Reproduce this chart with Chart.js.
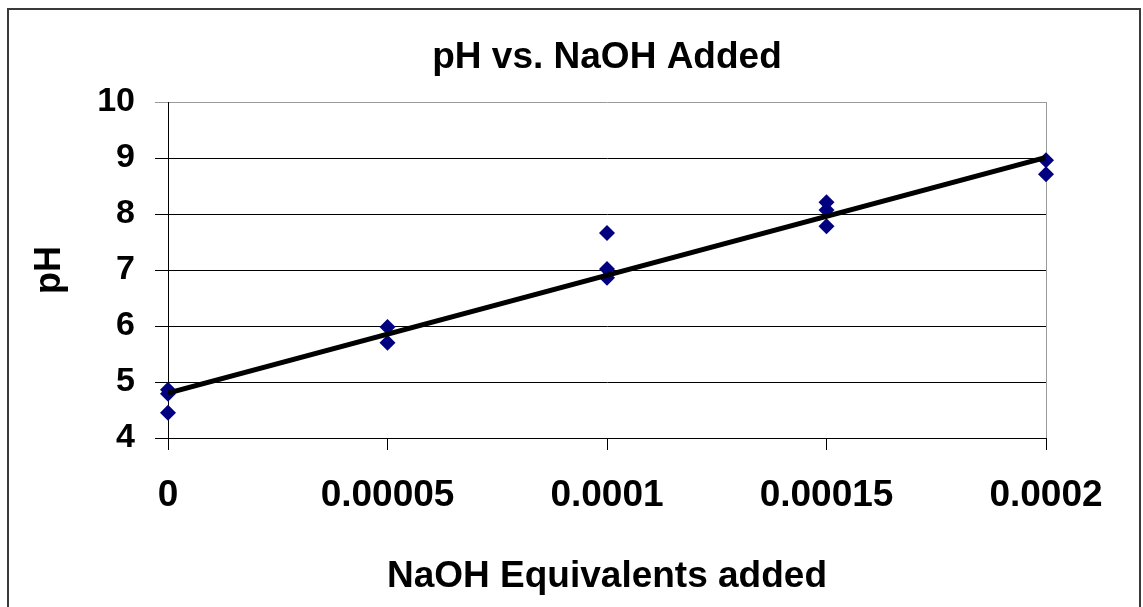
<!DOCTYPE html>
<html>
<head>
<meta charset="utf-8">
<script src="https://cdn.jsdelivr.net/npm/chart.js@4/dist/chart.umd.min.js"></script>
<style>
  html, body { margin: 0; padding: 0; background: #fff; }
  #wrap { width: 1143px; height: 607px; position: relative; }
</style>
</head>
<body>
<div id="wrap"><canvas id="c"></canvas></div>
<script>
// Titration readings: NaOH equivalents added vs. measured pH
const naohAdded = [0, 0, 0, 0.00005, 0.00005, 0.0001, 0.0001, 0.0001, 0.00015, 0.00015, 0.00015, 0.0002, 0.0002];
const phValues  = [4.86, 4.79, 4.45, 5.98, 5.70, 7.66, 7.02, 6.86, 8.21, 8.07, 7.78, 8.96, 8.71];

// Linear trendline end points
const trendX = [0, 0.0002];
const trendY = [4.80, 9.01];

// Axis ticks
const xTickValues = [0, 0.00005, 0.0001, 0.00015, 0.0002];
const xTickLabels = ['0', '0.00005', '0.0001', '0.00015', '0.0002'];
const yTickValues = [4, 5, 6, 7, 8, 9, 10];
const yTickLabels = ['4', '5', '6', '7', '8', '9', '10'];

const FONT = '"Liberation Sans", Arial, Helvetica, sans-serif';

const frame = {
  id: 'frame',
  beforeDraw(chart) {
    const ctx = chart.ctx;
    ctx.save();
    ctx.fillStyle = '#ffffff';
    ctx.fillRect(0, 0, chart.width, chart.height);
    ctx.strokeStyle = '#3a3a3a';
    ctx.lineWidth = 2;
    ctx.strokeRect(8, 9, 1132, 700);
    ctx.restore();
  },
  beforeDatasetsDraw(chart) {
    const {ctx, chartArea: a} = chart;
    ctx.save();
    ctx.strokeStyle = '#9a9a9a';
    ctx.lineWidth = 1;
    ctx.beginPath();
    ctx.moveTo(Math.round(a.right) + 0.5, a.top);
    ctx.lineTo(Math.round(a.right) + 0.5, a.bottom);
    ctx.stroke();
    ctx.restore();
  }
};

new Chart(document.getElementById('c'), {
  type: 'scatter',
  data: {
    datasets: [
      {
        type: 'line',
        label: 'Linear trend',
        data: trendX.map((x, i) => ({x, y: trendY[i]})),
        borderColor: '#000000',
        borderWidth: 5,
        pointRadius: 0,
        fill: false,
        order: 0
      },
      {
        label: 'pH',
        data: naohAdded.map((x, i) => ({x, y: phValues[i]})),
        pointStyle: 'rectRot',
        pointRadius: 8,
        pointHoverRadius: 8,
        backgroundColor: '#000080',
        borderColor: '#000080',
        borderWidth: 0,
        clip: false,
        order: 1
      }
    ]
  },
  options: {
    responsive: true,
    maintainAspectRatio: false,
    animation: false,
    events: [],
    layout: { padding: { left: 0, right: 97, top: 0, bottom: 0 } },
    plugins: {
      legend: { display: false },
      tooltip: { enabled: false },
      title: {
        display: true,
        fullSize: false,
        text: 'pH vs. NaOH Added',
        color: '#000',
        font: { family: FONT, size: 37, weight: 'bold' },
        padding: { top: 36, bottom: 21.6 }
      }
    },
    scales: {
      x: {
        type: 'linear',
        min: 0,
        max: 0.0002,
        afterBuildTicks(scale) { scale.ticks = xTickValues.map(v => ({value: v})); },
        afterFit(scale) { scale.height = 169; },
        border: { display: true, color: '#000', width: 1 },
        grid: { drawOnChartArea: false, drawTicks: true, tickLength: 12, color: '#000', lineWidth: 1 },
        ticks: {
          color: '#000',
          font: { family: FONT, size: 37, weight: 'bold' },
          padding: 24,
          maxRotation: 0,
          autoSkip: false,
          callback: (v, i) => xTickLabels[i]
        },
        title: {
          display: true,
          text: 'NaOH Equivalents added',
          color: '#000',
          font: { family: FONT, size: 37, weight: 'bold' },
          padding: { top: 0, bottom: 8 }
        }
      },
      y: {
        type: 'linear',
        min: 4,
        max: 10,
        afterBuildTicks(scale) { scale.ticks = yTickValues.map(v => ({value: v})); },
        afterFit(scale) { scale.width = 168; },
        border: { display: true, color: '#000', width: 1 },
        grid: {
          drawTicks: true,
          tickLength: 13,
          lineWidth: 1,
          color: ctx => (ctx.tick && ctx.tick.value === 10) ? '#9a9a9a' : '#000'
        },
        ticks: {
          color: '#000',
          font: { family: FONT, size: 34, weight: 'bold' },
          padding: 20,
          autoSkip: false,
          callback: (v, i) => yTickLabels[i]
        },
        title: {
          display: true,
          text: 'pH',
          color: '#000',
          font: { family: FONT, size: 36, weight: 'bold' },
          padding: { top: 28, bottom: 0 }
        }
      }
    }
  },
  plugins: [frame]
});
</script>
</body>
</html>
